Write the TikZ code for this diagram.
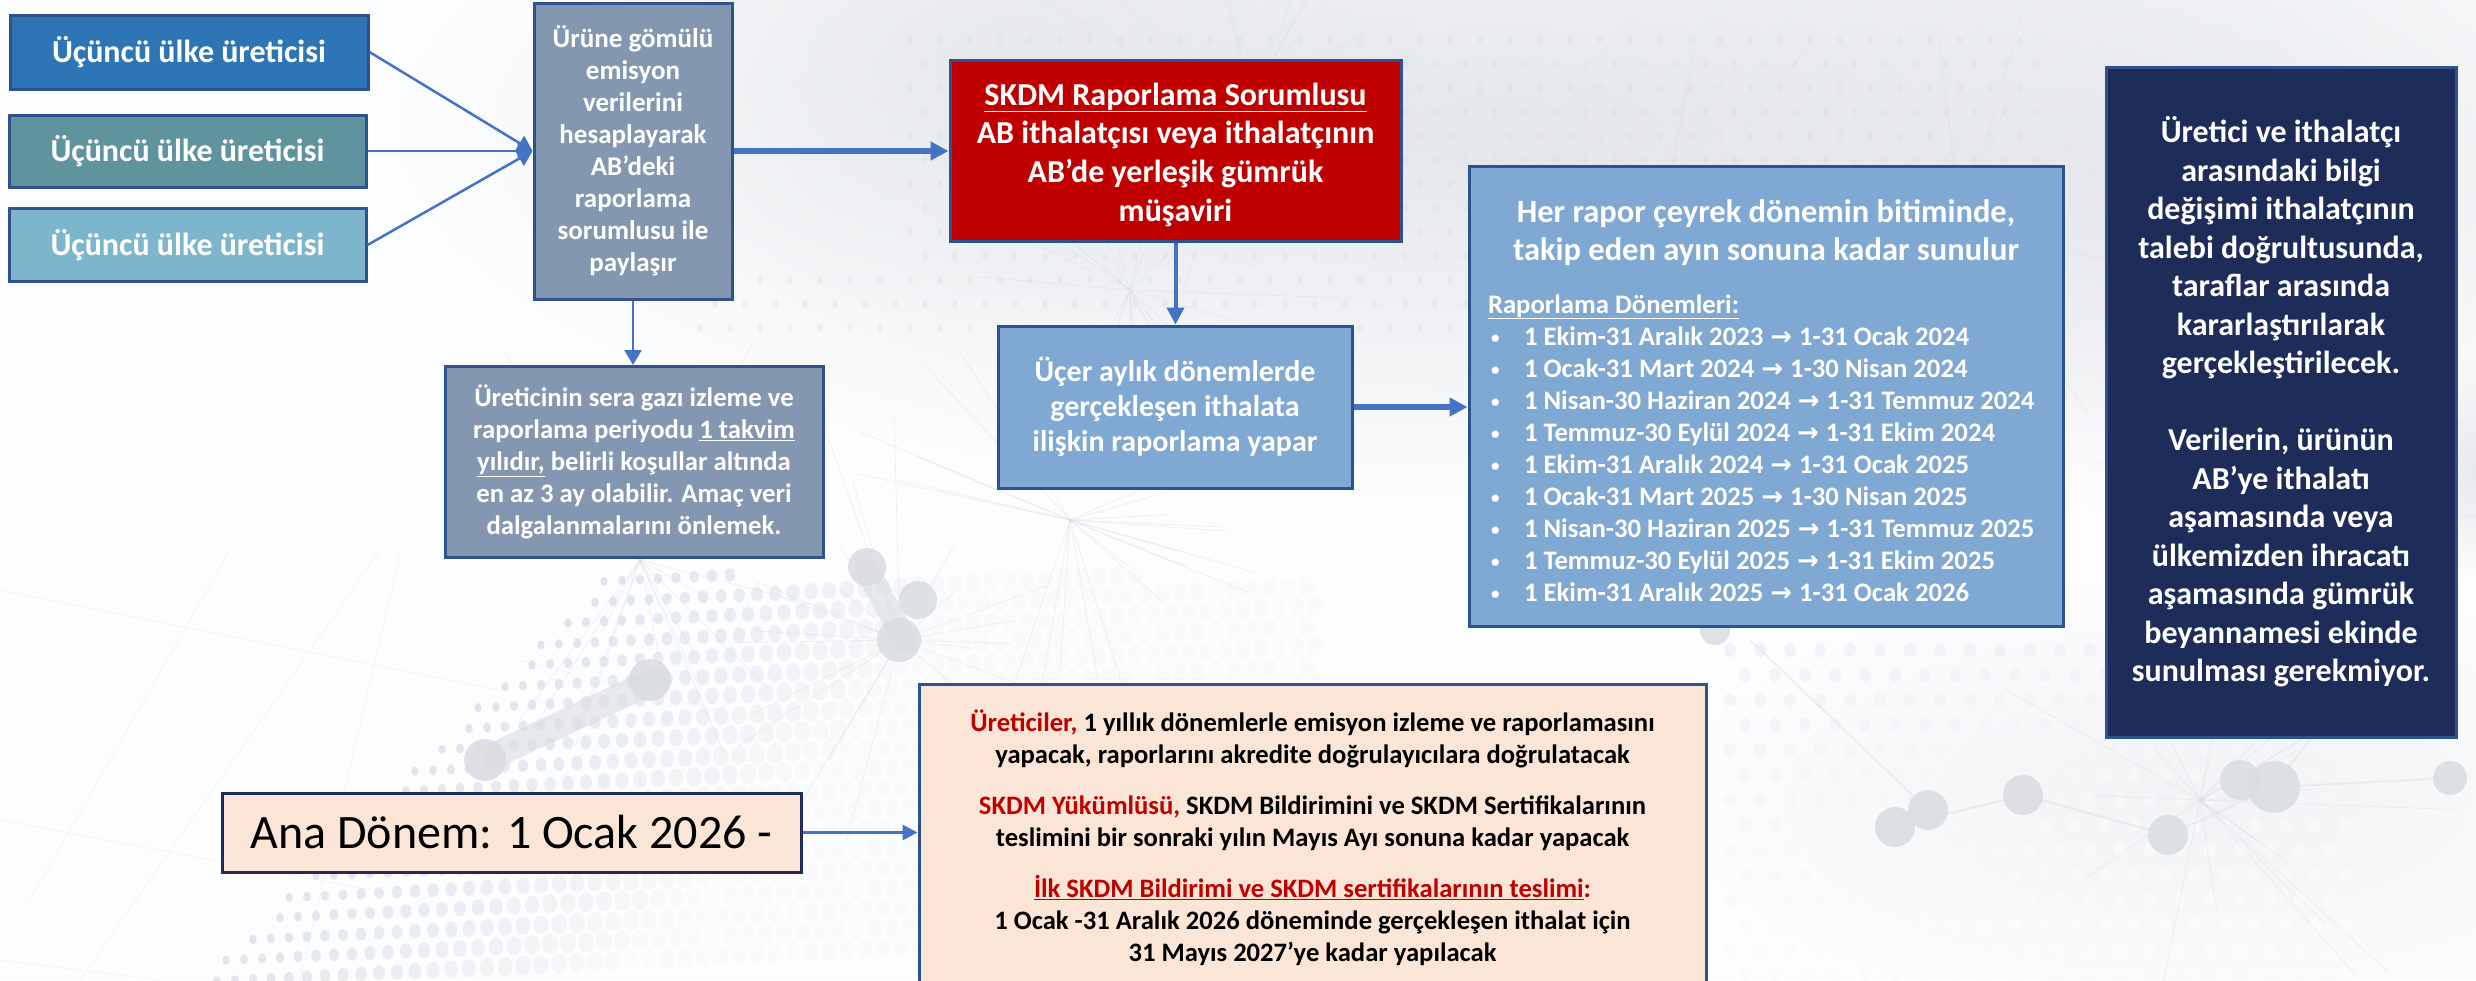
\documentclass[tikz,border=0pt]{standalone}
\usepackage{fontspec}
\setmainfont{Carlito}
\newfontfamily\arrowfont{DejaVu Sans}
\usetikzlibrary{arrows.meta,fadings}
\definecolor{bgc}{HTML}{FCFDFE}
\definecolor{dotc}{HTML}{D6DAE1}
\definecolor{hazec}{HTML}{DDE0E5}
\definecolor{blobc}{HTML}{D9DCE0}
\definecolor{edgec}{HTML}{2F528F}
\definecolor{arrowc}{HTML}{4472C4}
\definecolor{c1}{HTML}{2E75B6}
\definecolor{c2}{HTML}{5F949E}
\definecolor{c3}{HTML}{7DB6CC}
\definecolor{slatec}{HTML}{8497B0}
\definecolor{redc}{HTML}{C00000}
\definecolor{bluec}{HTML}{7FA8D3}
\definecolor{navyc}{HTML}{1D2C59}
\definecolor{peachc}{HTML}{FBE5D6}
\tikzfading[name=softc, inner color=transparent!0, outer color=transparent!100]
\newcommand{\arr}{{\arrowfont\bfseries\fontsize{26}{32}\selectfont\hspace{7pt}→\hspace{7pt}}}
\newcommand{\bul}{\makebox[36pt][l]{\hspace{3pt}\raisebox{2pt}{\fontsize{17}{32}\selectfont•}}}
\newcommand{\li}[1]{\bul#1\\}
\tikzset{
  x=1pt,y=-1pt,
  boxn/.style={draw=edgec,line width=3pt,inner sep=0pt,align=center,text=white},
  thin link/.style={draw=arrowc,line width=2.5pt,-{Triangle[length=15pt,width=17pt]}},
  thick link/.style={draw=arrowc,line width=6pt,-{Triangle[length=18pt,width=18pt]}},
  haze/.style={fill=hazec,path fading=softc},
  blob/.style={fill=blobc,opacity=.85},
  web/.style={draw=blobc,line width=.8pt,opacity=.4},
  grid line/.style={draw=hazec,line width=1pt,opacity=.25}
}
\begin{document}
\begin{tikzpicture}
\useasboundingbox (0,0) rectangle (2476,980);
\fill[bgc] (0,0) rectangle (2476,980);
% background haze
\fill[haze,opacity=.8] (1500,130) ellipse [x radius=1100,y radius=370];
\fill[haze,opacity=.6] (2150,180) ellipse [x radius=600,y radius=330];
\fill[haze,opacity=.5] (1000,60) ellipse [x radius=420,y radius=260];
\fill[haze,opacity=.35] (2200,800) ellipse [x radius=520,y radius=220];
\fill[haze,opacity=.7] (2476,470) ellipse [x radius=90,y radius=110];
% globe grid
\foreach \a/\b/\c/\d in {380/550/80/980,230/550/30/900,0/820/370/890,0/590/500/690,520/660/910/760,0/960/160/980,400/555/300/980}{
  \draw[grid line] (\a,\b) -- (\c,\d);}
% dots, lower left
\foreach \i in {0,...,62}{
 \foreach \j in {0,...,23}{
  \pgfmathsetmacro{\xx}{190+\i*18+mod(\j,2)*9}
  \pgfmathsetmacro{\yy}{522+\j*20-\i*0.9}
  \pgfmathsetmacro{\dd}{\xx+\yy-1185}
  \pgfmathtruncatemacro{\ok}{(\dd>0)&&(\yy>575)&&(\xx<1340)&&(\yy<985)}
  \ifnum\ok=1
   \pgfmathsetmacro{\rx}{min(3.6+\dd/70,8)}
   \pgfmathsetmacro{\ry}{\rx*1.25}
   \pgfmathtruncatemacro{\pp}{max(8,min(72,72-\dd/6.5-max(0,\xx-850)/9))}
   \fill[dotc!\pp!bgc] (\xx,\yy) ellipse [x radius=\rx,y radius=\ry];
  \fi
 }}
% dots, upper and right, faint
\foreach \i in {0,...,44}{
 \foreach \j in {0,...,14}{
  \pgfmathsetmacro{\xx}{700+\i*30+mod(\j,2)*15}
  \pgfmathsetmacro{\yy}{40+\j*24}
  \pgfmathtruncatemacro{\ok}{(\xx<990)&&(\yy>260)||(\xx>900)&&(\yy<330)}
  \ifnum\ok=1
   \fill[dotc,opacity=.3] (\xx,\yy) ellipse [x radius=3,y radius=4];
  \fi
 }}
\foreach \i in {0,...,20}{
 \foreach \j in {0,...,13}{
  \pgfmathsetmacro{\xx}{1730+\i*30+mod(\j,2)*15}
  \pgfmathsetmacro{\yy}{650+\j*25}
  \pgfmathtruncatemacro{\pp}{max(6,28-\j*2)}
  \fill[dotc!\pp!bgc] (\xx,\yy) ellipse [x radius=6,y radius=7];
 }}
% network lines
\pgfmathsetseed{11}
\foreach \hx/\hy in {640/560,1130/290,1660/240,1960/230,1250/100,2310/500,900/640,1070/520,2200/800}{
 \foreach \k in {1,...,22}{
  \pgfmathsetmacro{\aa}{rnd*360}
  \pgfmathsetmacro{\rr}{70+rnd*190}
  \draw[web] (\hx,\hy) -- ++(\aa:\rr);
 }}
\foreach \a/\b/\c/\d in {1895/827/2023/795,2023/795/2168/835,2168/835/2274/787,2274/787/2450/778,1928/810/1750/640,2274/787/2400/620}{
 \draw[web,line width=2pt] (\a,\b) -- (\c,\d);}
% large nodes of the network
\foreach \x/\y/\r in {1895/827/20,1928/810/20,2023/795/20,2168/835/20,2274/787/26,2240/780/20,2450/778/17,485/760/21,867/567/19,899/640/22,918/600/19,650/680/21,1715/630/15}{
 \fill[blob] (\x,\y) circle [radius=\r];}
\draw[blobc,line width=26pt,line cap=round,opacity=.6] (495,755) -- (655,680);
\draw[blobc,line width=24pt,line cap=round,opacity=.6] (867,570) -- (905,640);
% boxes
\node[boxn,fill=c1,minimum width=358pt,minimum height=74pt,font=\fontsize{32}{38}\selectfont\bfseries] (a) at (189,52) {Üçüncü ülke üreticisi};
\node[boxn,fill=c2,minimum width=357pt,minimum height=72pt,font=\fontsize{32}{38}\selectfont\bfseries] (b) at (187.5,151) {Üçüncü ülke üreticisi};
\node[boxn,fill=c3,minimum width=357pt,minimum height=73pt,font=\fontsize{32}{38}\selectfont\bfseries] (c) at (187.5,245) {Üçüncü ülke üreticisi};
\node[boxn,fill=slatec,minimum width=198pt,minimum height=296pt,font=\fontsize{27}{32}\selectfont\bfseries] (d) at (633,151) {Ürüne gömülü\\emisyon\\verilerini\\hesaplayarak\\AB’deki\\raporlama\\sorumlusu ile\\paylaşır};
\node[boxn,fill=slatec,minimum width=378pt,minimum height=191pt,font=\fontsize{26.7}{32}\selectfont\bfseries] (e) at (634,462) {Üreticinin sera gazı izleme ve\\raporlama periyodu \underline{1 takvim}\\\underline{yılıdır,} belirli koşullar altında\\en az 3 ay olabilir. Amaç veri\\dalgalanmalarını önlemek.};
\node[boxn,fill=redc,minimum width=451pt,minimum height=181pt,font=\fontsize{32}{38.7}\selectfont\bfseries] (r) at (1175.5,151) {\rule{0pt}{30pt}\underline{SKDM Raporlama Sorumlusu}\\AB ithalatçısı veya ithalatçının\\AB’de yerleşik gümrük\\müşaviri};
\node[boxn,fill=bluec,minimum width=354pt,minimum height=162pt,font=\fontsize{30}{35}\selectfont\bfseries] (s) at (1175,407) {Üçer aylık dönemlerde\\gerçekleşen ithalata\\ilişkin raporlama yapar};
\node[boxn,fill=bluec,minimum width=594pt,minimum height=460pt] (l) at (1766,396) {\parbox{556pt}{\vspace*{8.8pt}\bfseries\centering\fontsize{32.5}{37.6}\selectfont Her rapor çeyrek dönemin bitiminde,\\takip eden ayın sonuna kadar sunulur\par\vspace{21pt}\raggedright\fontsize{26.7}{32}\selectfont \underline{Raporlama Dönemleri:}\\
\li{1 Ekim-31 Aralık 2023\arr 1-31 Ocak 2024}
\li{1 Ocak-31 Mart 2024\arr 1-30 Nisan 2024}
\li{1 Nisan-30 Haziran 2024\arr 1-31 Temmuz 2024}
\li{1 Temmuz-30 Eylül 2024\arr 1-31 Ekim 2024}
\li{1 Ekim-31 Aralık 2024\arr 1-31 Ocak 2025}
\li{1 Ocak-31 Mart 2025\arr 1-30 Nisan 2025}
\li{1 Nisan-30 Haziran 2025\arr 1-31 Temmuz 2025}
\li{1 Temmuz-30 Eylül 2025\arr 1-31 Ekim 2025}
\bul 1 Ekim-31 Aralık 2025\arr 1-31 Ocak 2026}};
\node[boxn,fill=navyc,minimum width=350pt,minimum height=670pt,font=\fontsize{32}{38.5}\selectfont\bfseries] (n) at (2281,402) {Üretici ve ithalatçı\\arasındaki bilgi\\değişimi ithalatçının\\talebi doğrultusunda,\\taraflar arasında\\kararlaştırılarak\\gerçekleştirilecek.\\[38.5pt]Verilerin, ürünün\\AB’ye ithalatı\\aşamasında veya\\ülkemizden ihracatı\\aşamasında gümrük\\beyannamesi ekinde\\sunulması gerekmiyor.};
\node[boxn,draw=navyc,fill=peachc,text=black,minimum width=579pt,minimum height=79pt,font=\fontsize{48}{60}\selectfont] (an) at (511.5,832.5) {Ana Dönem: 1 Ocak 2026 -};
\node[boxn,fill=peachc,text=black,minimum width=787pt,minimum height=306pt,font=\fontsize{26.6}{32}\selectfont\bfseries] (p) at (1312.5,837.5) {\textcolor{redc}{Üreticiler,} 1 yıllık dönemlerle emisyon izleme ve raporlamasını\\yapacak, raporlarını akredite doğrulayıcılara doğrulatacak\\[19pt]\textcolor{redc}{SKDM Yükümlüsü,} SKDM Bildirimini ve SKDM Sertifikalarının\\teslimini bir sonraki yılın Mayıs Ayı sonuna kadar yapacak\\[19pt]\textcolor{redc}{\underline{İlk SKDM Bildirimi ve SKDM sertifikalarının teslimi}:}\\1 Ocak -31 Aralık 2026 döneminde gerçekleşen ithalat için\\31 Mayıs 2027’ye kadar yapılacak};
% connectors
\draw[thin link] (a.east) -- (d.west);
\draw[thin link] (b.east) -- (d.west);
\draw[thin link] (c.east) -- (d.west);
\draw[thin link] (d.south) -- (d.south |- e.north);
\draw[thick link] (d.east) -- (r.west);
\draw[draw=arrowc,line width=4pt,-{Triangle[length=17pt,width=17pt]}] (r.south) -- (r.south |- s.north);
\draw[thick link] (s.east) -- (s.east -| l.west);
\draw[draw=arrowc,line width=3pt,-{Triangle[length=15pt,width=15pt]}] (an.east) -- (an.east -| p.west);
\end{tikzpicture}
\end{document}
